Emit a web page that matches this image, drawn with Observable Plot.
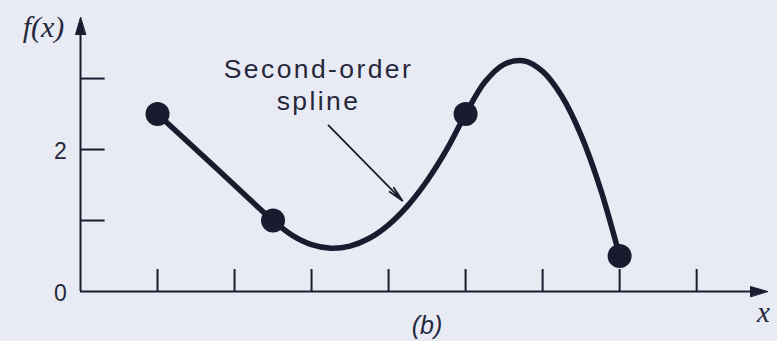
<!DOCTYPE html>
<html>
<head>
<meta charset="utf-8">
<script src="https://cdn.jsdelivr.net/npm/d3@7"></script>
<script src="https://cdn.jsdelivr.net/npm/@observablehq/plot@0.6"></script>
<style>
  html, body { margin: 0; padding: 0; background: #e9ebf4; }
  #chart svg { display: block; }
</style>
</head>
<body>
<div id="chart"></div>
<script>
// Data knots of the quadratic spline
const knotX = [3, 4.5, 7, 9];
const knotY = [2.5, 1.0, 2.5, 0.5];

// Points
const curveX = [3, 3.75, 4.5, 4.75, 5.0, 5.25, 5.5, 5.75, 6.0, 6.25, 6.5, 6.75, 7.0,
                7.25, 7.5, 7.75, 8.0, 8.25, 8.5, 8.75, 9.0];
const curveY = [2.5, 1.75, 1.0, 0.79, 0.66, 0.61, 0.64, 0.75, 0.94, 1.21, 1.56, 1.99, 2.5,
                2.95, 3.2, 3.25, 3.1, 2.75, 2.2, 1.45, 0.5];

// Axis ticks
const xTicks = [3, 4, 5, 6, 7, 8, 9, 10];
const yTicks = [1, 2, 3];
const yTickLabels = [0, 2];

// Annotation
const labelLines = ["Second-order", "spline"];
const labelX = 5.09;
const labelY = [3.01, 2.56];
const pointer = {x1: 5.22, y1: 2.34, x2: 6.18, y2: 1.28};

const ink = "#181c2e";
const textInk = "#25283b";
const xMin = 2, xMax = 10.92, yMax = 3.86;

const knots = knotX.map((x, i) => ({x, y: knotY[i]}));
const curve = curveX.map((x, i) => ({x, y: curveY[i]}));

// Filled triangular arrowhead, drawn pointing along the vector
const head = {
  draw(ctx, l, r) {
    ctx.moveTo(0, -l);
    ctx.lineTo(-r, 0);
    ctx.lineTo(r, 0);
    ctx.closePath();
  }
};

const chart = Plot.plot({
  width: 777,
  height: 341,
  marginLeft: 80,
  marginRight: 10,
  marginTop: 17,
  marginBottom: 50,
  style: {background: "#e9ebf4", color: ink},
  x: {domain: [xMin, xMax], axis: null},
  y: {domain: [0, yMax], axis: null},
  marks: [
    // axes lines
    Plot.ruleY([0], {x1: xMin, x2: xMax - 0.1, stroke: ink, strokeWidth: 2}),
    Plot.ruleX([xMin], {y1: 0, y2: yMax - 0.1, stroke: ink, strokeWidth: 2}),
    Plot.vector([{x: xMax, y: 0}], {x: "x", y: "y", rotate: 90, length: 17, anchor: "end",
      shape: head, r: 5, fill: ink, stroke: ink, strokeWidth: 1}),
    Plot.vector([{x: xMin, y: yMax}], {x: "x", y: "y", rotate: 0, length: 17, anchor: "end",
      shape: head, r: 5, fill: ink, stroke: ink, strokeWidth: 1}),
    // tick marks
    Plot.ruleX(xTicks, {y1: 0, y2: 0.31, stroke: ink, strokeWidth: 2}),
    Plot.ruleY(yTicks, {x1: xMin, x2: xMin + 0.32, stroke: ink, strokeWidth: 2}),
    // tick labels
    Plot.text(yTickLabels, {x: xMin, y: d => d, text: d => String(d), dx: -20, dy: 2,
      fontSize: 23, fontFamily: "Liberation Sans, Arial, sans-serif", fill: textInk}),
    // axis titles
    Plot.text(["f(x)"], {x: xMin, y: yMax, dx: -37, dy: 10, text: d => d, fontSize: 30,
      fontStyle: "italic", fontFamily: "Liberation Serif, Times New Roman, serif", fill: textInk}),
    Plot.text(["x"], {x: xMax, y: 0, dx: -4, dy: 21, text: d => d, fontSize: 29,
      fontStyle: "italic", fontFamily: "Liberation Serif, Times New Roman, serif", fill: textInk}),
    Plot.text(["(b)"], {x: (xMin + xMax) / 2 + 0.04, y: 0, dy: 34, text: d => d, fontSize: 25,
      fontStyle: "italic", fontFamily: "Liberation Sans, Arial, sans-serif", fill: textInk}),
    // spline curve and knots
    Plot.line(curve, {x: "x", y: "y", curve: "catmull-rom", stroke: ink, strokeWidth: 5.5,
      strokeLinejoin: "round", strokeLinecap: "round"}),
    Plot.dot(knots, {x: "x", y: "y", r: 12, fill: ink, stroke: "none"}),
    // annotation
    Plot.text(labelLines, {x: labelX, y: (d, i) => labelY[i], text: d => d, fontSize: 26.5,
      lineAnchor: "bottom", fontFamily: "Liberation Sans, Arial, sans-serif", fill: textInk}),
    Plot.arrow([pointer], {x1: "x1", y1: "y1", x2: "x2", y2: "y2", stroke: ink,
      strokeWidth: 1.8, headLength: 13, headAngle: 22})
  ]
});

// letter spacing for the annotation label
d3.select(chart).selectAll("text").filter(function() {
  return labelLines.includes(this.textContent);
}).style("letter-spacing", "2.4px");

document.getElementById("chart").appendChild(chart);
</script>
</body>
</html>
